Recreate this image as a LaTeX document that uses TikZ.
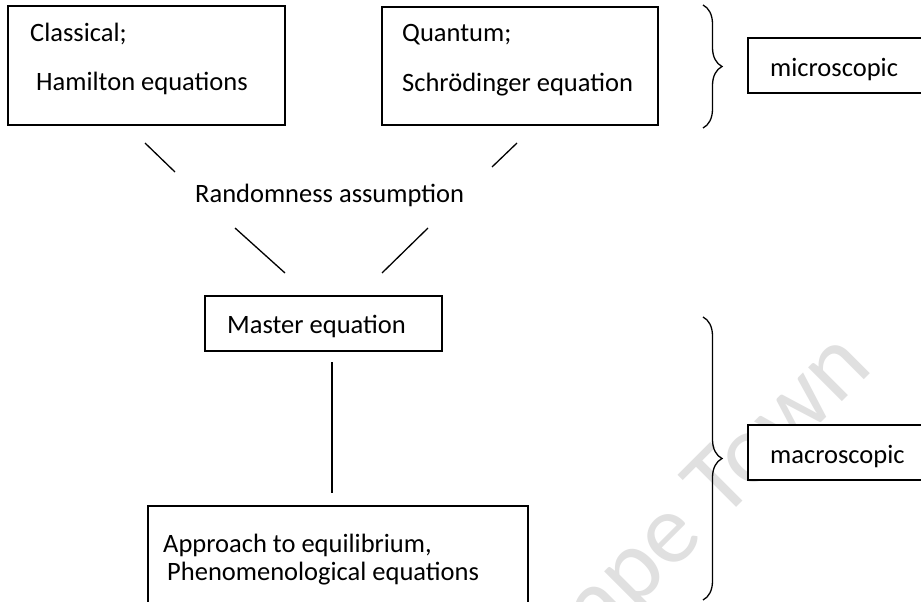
\documentclass[tikz,border=0pt]{standalone}
\usepackage{fontspec}
\setmainfont{Carlito}
\usetikzlibrary{decorations.pathreplacing}
\begin{document}
\begin{tikzpicture}[x=1pt,y=-1pt,
  boxline/.style={draw=black, line width=1.4pt, fill=white},
  lbl/.style={anchor=base west, inner sep=0pt, font=\fontsize{26.5}{31}\selectfont},
  conn/.style={draw=black, line width=1.3pt},
  bracestyle/.style={draw=black, line width=1.3pt, decorate, decoration={brace, amplitude=19pt}},
  wmark/.style={rotate=45, anchor=base west, text=black!12, inner sep=0pt, font=\fontsize{100}{100}\selectfont}]
\useasboundingbox (0,0) rectangle (921,602);
\fill[white] (0,0) rectangle (921,602);
% watermark
\node[wmark] (wm) at (562,682) {Cape Town};
% boxes
\path[boxline] (8,6) rectangle (285,125);
\path[boxline] (382,7) rectangle (658,125);
\path[boxline] (748,38) rectangle (923,93);
\path[boxline] (205,296) rectangle (442,351);
\path[boxline] (748,425) rectangle (923,480);
\path[boxline] (148,506) rectangle (528,602.5);
% texts
\node[lbl] (cl1) at (30,42) {Classical;};
\node[lbl] (cl2) at (36,91) {Hamilton equations};
\node[lbl] (qu1) at (402,42) {Quantum;};
\node[lbl] (qu2) at (402,92) {Schrödinger equation};
\node[lbl] (micro) at (770,77) {microscopic};
\node[lbl] (rand) at (195,202) {Randomness assumption};
\node[lbl] (master) at (227,333) {Master equation};
\node[lbl] (macro) at (770,463) {macroscopic};
\node[lbl] (ap1) at (163,552) {Approach to equilibrium,};
\node[lbl] (ap2) at (167,580) {Phenomenological equations};
% connectors
\coordinate (a1) at (145,143); \coordinate (a2) at (175,172);
\coordinate (b1) at (517,143); \coordinate (b2) at (492,167);
\coordinate (c1) at (235,228); \coordinate (c2) at (285,273);
\coordinate (d1) at (428,228); \coordinate (d2) at (382,273);
\coordinate (e1) at (332,362); \coordinate (e2) at (332,493);
\draw[conn] (a1) -- (a2);
\draw[conn] (b1) -- (b2);
\draw[conn] (c1) -- (c2);
\draw[conn] (d1) -- (d2);
\draw[conn] (e1) -- (e2);
% braces
\coordinate (mt) at (703,5); \coordinate (mb) at (703,128);
\coordinate (Mt) at (703,317); \coordinate (Mb) at (703,600);
\draw[bracestyle] (mt) -- (mb);
\draw[bracestyle] (Mt) -- (Mb);
\end{tikzpicture}
\end{document}
